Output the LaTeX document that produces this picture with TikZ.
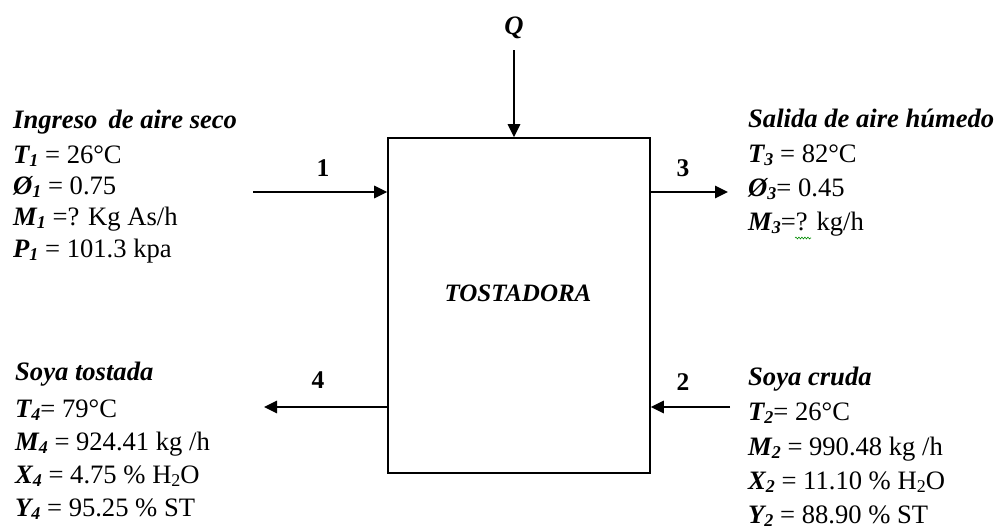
\documentclass[tikz,border=0pt]{standalone}
\usepackage{fontspec}
\setmainfont{Liberation Serif}
\usetikzlibrary{arrows.meta,decorations.pathmorphing}
\newcommand\lowsub[1]{\raisebox{-0.3ex}{\fontsize{18}{18}\selectfont #1}}
\newcommand\bi[1]{\textbf{\textit{#1}}}
\begin{document}
\begin{tikzpicture}[x=1pt,y=-1pt,
  txt/.style={anchor=base west,inner sep=0pt,font=\fontsize{26.6}{30}\selectfont},
  lbl/.style={inner sep=0pt,font=\fontsize{25.5}{30}\selectfont\bfseries},
  flow/.style={line width=1.6pt,-{Triangle[length=13pt,width=12.5pt]}},
  boxst/.style={draw,line width=1.6pt,minimum width=262pt,minimum height=335pt,inner sep=0pt}]
\useasboundingbox (0,0) rectangle (997,530);
% main box
\node[boxst] (box) at (519,305.5) {};
\node[lbl,font=\fontsize{25}{30}\selectfont\bfseries\itshape] (tost) at (518,293) {TOSTADORA};
% Q
\node[lbl,font=\fontsize{26.6}{30}\selectfont\bfseries\itshape] (q) at (514,28) {Q};
\coordinate (qs) at (514,50);
\draw[flow] (qs) -- (box.north -| qs);
% stream 1
\coordinate (s1) at (253,192);
\draw[flow] (s1) -- (box.west |- s1);
\node[lbl] (n1) at (323,168) {1};
% stream 3
\coordinate (s3) at (650,192);
\coordinate (e3) at (728,192);
\draw[flow] (box.east |- s3) -- (e3);
\node[lbl] (n3) at (683,168) {3};
% stream 4
\coordinate (s4) at (388,407);
\coordinate (e4) at (264,407);
\draw[flow] (box.west |- s4) -- (e4);
\node[lbl] (n4) at (318,380) {4};
% stream 2
\coordinate (s2) at (730,407);
\draw[flow] (s2) -- (box.east |- s2);
\node[lbl] (n2) at (683,382) {2};
% left top
\node[txt] (a1) at (13,128) {\bi{Ingreso\, de aire seco}};
\node[txt] (a2) at (13,163) {\bi{T\lowsub{1}} = 26°C};
\node[txt] (a3) at (13,194) {\bi{Ø\lowsub{1}} = 0.75};
\node[txt] (a4) at (13,225) {\bi{M\lowsub{1}} =? Kg As/h};
\node[txt] (a5) at (13,257) {\bi{P\lowsub{1}} = 101.3 kpa};
% left bottom
\node[txt] (b1) at (15,380) {\bi{Soya tostada}};
\node[txt] (b2) at (15,417) {\bi{T\lowsub{4}}= 79°C};
\node[txt] (b3) at (15,450) {\bi{M\lowsub{4}} = 924.41 kg /h};
\node[txt] (b4) at (15,483) {\bi{X\lowsub{4}} = 4.75 \% H\lowsub{2}O};
\node[txt] (b5) at (15,516) {\bi{Y\lowsub{4}} = 95.25 \% ST};
% right top
\node[txt] (c1) at (748,127) {\bi{Salida de aire húmedo}};
\node[txt] (c2) at (748,162) {\bi{T\lowsub{3}} = 82°C};
\node[txt] (c3) at (748,196) {\bi{Ø\lowsub{3}}= 0.45};
\node[txt] (c4) at (748,230) {\bi{M\lowsub{3}}=? kg/h};
\draw[green!55!black,line width=0.6pt,decorate,decoration={snake,amplitude=0.9pt,segment length=3pt}] (795,238) -- (811,238);
% right bottom
\node[txt] (d1) at (748,385) {\bi{Soya cruda}};
\node[txt] (d2) at (748,420) {\bi{T\lowsub{2}}= 26°C};
\node[txt] (d3) at (748,455) {\bi{M\lowsub{2}} = 990.48 kg /h};
\node[txt] (d4) at (748,489) {\bi{X\lowsub{2}} = 11.10 \% H\lowsub{2}O};
\node[txt] (d5) at (748,523) {\bi{Y\lowsub{2}} = 88.90 \% ST};
\end{tikzpicture}
\end{document}
